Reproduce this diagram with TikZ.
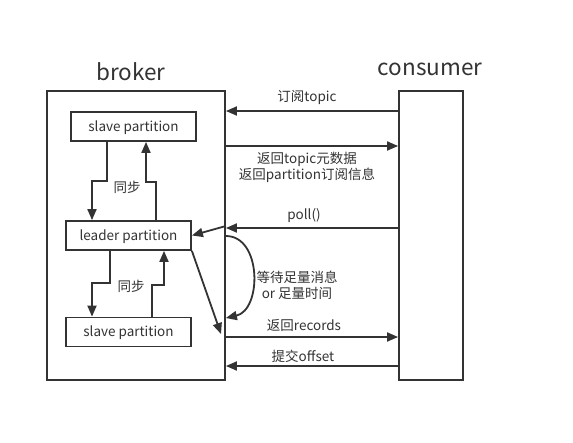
\documentclass[tikz,border=0pt]{standalone}
\usepackage{fontspec}
\setmainfont{Noto Sans CJK SC}
\usetikzlibrary{arrows.meta}
\definecolor{ink}{HTML}{333333}
\begin{document}
\begin{tikzpicture}[x=1pt,y=-1pt,
  every node/.style={font=\fontsize{13.5}{16}\selectfont, text=ink},
  bigbox/.style={draw=ink, line width=1.8pt, fill=white},
  part/.style={draw=ink, line width=1.8pt, fill=white, minimum height=29pt, inner sep=0pt, text height=9.5pt, text depth=0.5pt},
  arr/.style={draw=ink, line width=1.8pt, -{Triangle[length=11pt,width=9pt]}},
  title/.style={font=\fontsize{22.5}{26}\selectfont},
  lbl/.style={inner sep=1pt, align=center}]
\useasboundingbox (0,0) rectangle (573,442);
\path[fill=white] (0,0) rectangle (573,442);
% big boxes
\node[bigbox, minimum width=178pt, minimum height=289pt, inner sep=0pt] (brk) at (136,235.5) {};
\node[bigbox, minimum width=64pt, minimum height=289pt, inner sep=0pt] (cons) at (431,235.5) {};
\node[title] (tb) at (131,72) {broker};
\node[title] (tc) at (430,69) {consumer};
% partitions
\node[part, minimum width=125pt] (s1) at (133.5,126.5) {slave partition};
\node[part, minimum width=125pt] (ld) at (128.5,235.5) {leader partition};
\node[part, minimum width=125pt] (s2) at (128.5,332) {slave partition};
% sync arrows top
\draw[arr] (s1.south -| 107,0) |- (92,181) -- (ld.north -| 92,0);
\draw[arr] (ld.north -| 156,0) |- (146,182) -- (s1.south -| 146,0);
\node[lbl] (sy1) at (127,187) {同步};
% sync arrows bottom
\draw[arr] (ld.south -| 110,0) |- (92,283) -- (s2.north -| 92,0);
\draw[arr] (s2.north -| 152,0) |- (164,285) -- (ld.south -| 164,0);
\node[lbl] (sy2) at (131,286) {同步};
% diagonal from leader
\coordinate (dg) at (221,334);
\draw[arr] (ld.south east) -- (dg);
% poll into leader
\draw[arr] (brk.east |- 0,226) -- (ld.east);
% horizontal arrows
\draw[arr] (cons.west |- 0,111) -- (brk.east |- 0,111);
\node[lbl] (l1) at (307,97) {订阅topic};
\draw[arr] (brk.east |- 0,146) -- (cons.west |- 0,146);
\node[lbl] (l2) at (307,167.5) {返回topic元数据\\返回partition订阅信息};
\draw[arr] (cons.west |- 0,228) -- (brk.east |- 0,228);
\node[lbl] (l3) at (304,216) {poll()};
\draw[arr] (brk.east |- 0,236) .. controls (262,236) and (262,310) .. (brk.east |- 0,318);
\node[lbl] (l4) at (297,285.5) {等待足量消息\\or 足量时间};
\draw[arr] (brk.east |- 0,337) -- (cons.west |- 0,337);
\node[lbl] (l5) at (304,325) {返回records};
\draw[arr] (cons.west |- 0,366) -- (brk.east |- 0,366);
\node[lbl] (l6) at (303,356) {提交offset};
\end{tikzpicture}
\end{document}
